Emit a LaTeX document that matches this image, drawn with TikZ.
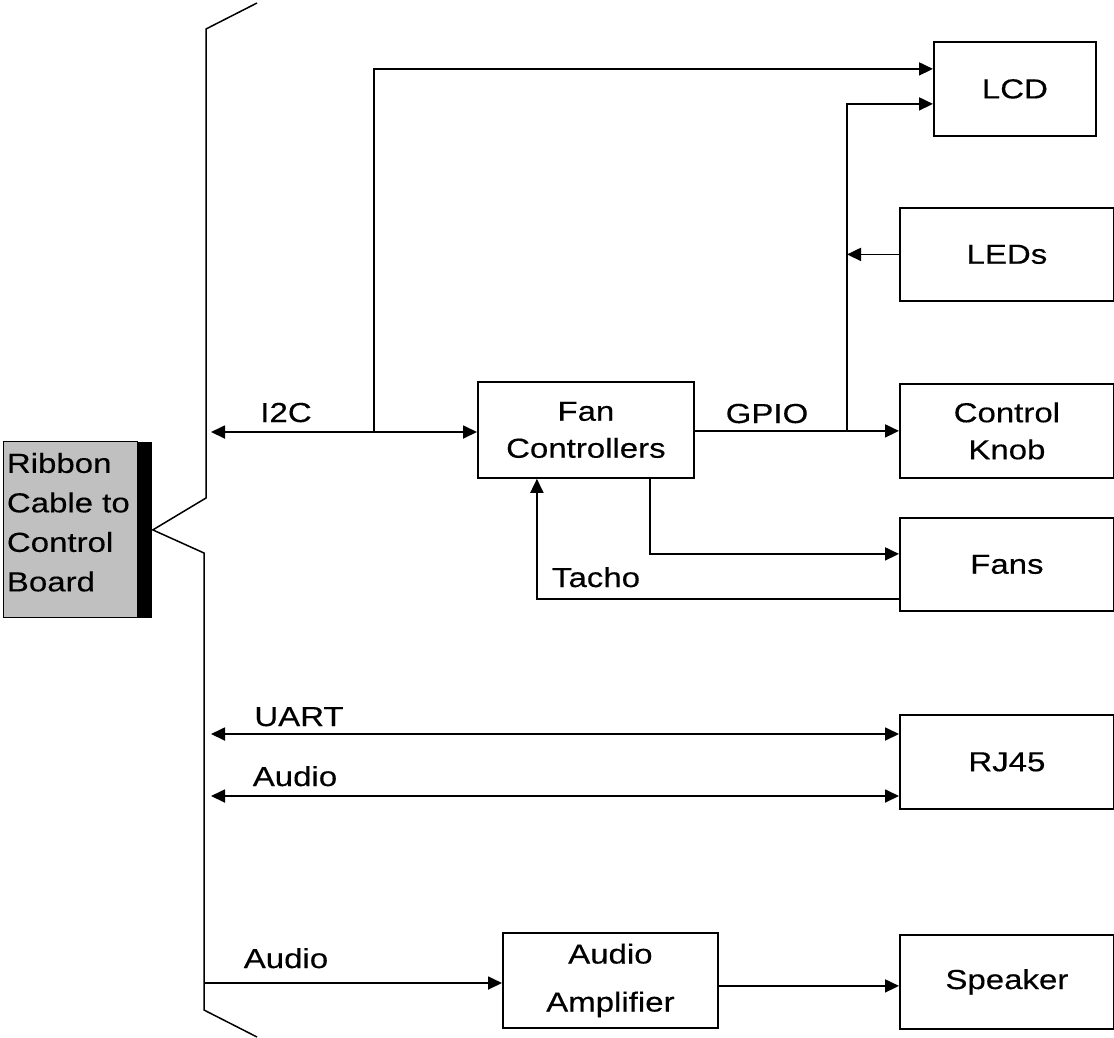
\documentclass[tikz,border=0pt]{standalone}
\usepackage{fontspec}
\setmainfont{Liberation Sans}[FakeStretch=1.2,FakeBold=0.3]
\usetikzlibrary{arrows.meta}
\begin{document}
\begin{tikzpicture}[x=1pt,y=-1pt,
  line width=1.8pt,
  >={Triangle[length=14pt,width=13pt]},
  box/.style={draw, line width=1.8pt, anchor=north west, inner sep=0pt, align=center,
              font=\fontsize{27.5}{37}\selectfont},
  lbl/.style={anchor=base, inner sep=0pt, font=\fontsize{27.5}{33}\selectfont},
  wire/.style={line width=1.8pt}
]
\useasboundingbox (0,0) rectangle (1114,1037);

% ribbon cable box
\node[draw, fill={rgb,255:red,192;green,192;blue,192}, line width=1.4pt, anchor=north west,
      minimum width=134pt, minimum height=176pt, inner sep=0pt] (ribbon) at (3,441) {};
\node[anchor=north west, align=left, inner sep=0pt, font=\fontsize{27.5}{39.5}\selectfont]
      (ribbontext) at (6,452) {Ribbon\\Cable to\\Control\\Board};
\node[fill=black, anchor=north west, minimum width=14pt, minimum height=176pt, inner sep=0pt]
      (bar) at (137,441) {};

% brace
\coordinate (bT) at (257,3);
\coordinate (bB) at (257,1037);
\draw[line width=1.5pt] (bT) -- (206,29) -- (206,498) -- (bar.east) -- (204,553) -- (204,1010) -- (bB);

% boxes
\node[box, minimum width=216pt, minimum height=96pt] (fan) at (477,381) {Fan\\Controllers};
\node[box, minimum width=162pt, minimum height=94pt] (lcd) at (933,41) {LCD};
\node[box, minimum width=214pt, minimum height=93pt] (leds) at (899,207) {LEDs};
\node[box, minimum width=214pt, minimum height=94pt] (knob) at (899,383) {Control\\Knob};
\node[box, minimum width=214pt, minimum height=93pt] (fans) at (899,517) {Fans};
\node[box, minimum width=214pt, minimum height=94pt] (rj45) at (899,714) {RJ45};
\node[box, minimum width=214pt, minimum height=94pt] (speaker) at (899,934) {Speaker};
\node[box, minimum width=215pt, minimum height=95pt, font=\fontsize{27.5}{48}\selectfont] (amp) at (502,932) {Audio\\Amplifier};

% brace attachment points
\coordinate (bi2c) at (211,432);
\coordinate (buart) at (211,734);
\coordinate (baud1) at (211,796);
\coordinate (baud2) at (205,983);
\coordinate (j1) at (374,432);
\coordinate (j2) at (847,430);

% connectors
\draw[wire,<->] (bi2c) -- (fan.west |- bi2c);
\draw[wire,->] (j1) |- ([yshift=20pt]lcd.west);
\draw[wire,->] (fan.east |- knob.west) -- (knob.west);
\draw[wire,->] (j2) |- ([yshift=-15pt]lcd.west);
\draw[wire,->] (leds.west) -- (leds.west -| j2);
\draw[wire,->] ([xshift=64pt]fan.south) |- ([yshift=10.5pt]fans.west);
\draw[wire,->] ([yshift=-34.5pt]fans.west) -| ([xshift=-49pt]fan.south);
\draw[wire,<->] (buart) -- (rj45.west |- buart);
\draw[wire,<->] (baud1) -- (rj45.west |- baud1);
\draw[wire,->] (baud2) -- (amp.west |- baud2);
\draw[wire,->] ([yshift=-4pt]speaker.west -| amp.east) -- ([yshift=-4pt]speaker.west);

% labels
\node[lbl] (li2c) at (286,422) {I2C};
\node[lbl] (lgpio) at (767,423) {GPIO};
\node[lbl] (ltacho) at (596,587) {Tacho};
\node[lbl] (luart) at (299,726) {UART};
\node[lbl] (laudio1) at (295,786) {Audio};
\node[lbl] (laudio2) at (286,968) {Audio};
\end{tikzpicture}
\end{document}
